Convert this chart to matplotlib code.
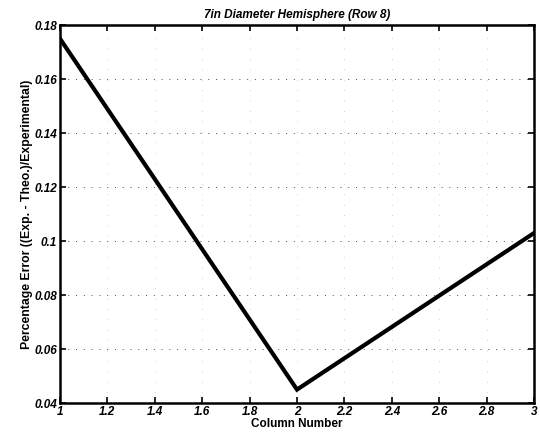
import matplotlib
matplotlib.use("Agg")
import matplotlib.pyplot as plt

# Percentage error per column, row 8
column_number = [1, 2, 3]
percent_error = [0.175, 0.045, 0.103]

x_ticks = [1, 1.2, 1.4, 1.6, 1.8, 2, 2.2, 2.4, 2.6, 2.8, 3]
y_ticks = [0.04, 0.06, 0.08, 0.1, 0.12, 0.14, 0.16, 0.18]
y_tick_labels = ["0.04", "0.06", "0.08", "0.1", "0.12", "0.14", "0.16", "0.18"]

plt.rcParams["font.family"] = ["Liberation Sans", "DejaVu Sans"]

fig = plt.figure(figsize=(5.4, 4.41), dpi=100)
ax = fig.add_axes([0.111, 0.086, 0.878, 0.857])

ax.plot(column_number, percent_error, color="black", linewidth=3.0,
        solid_joinstyle="miter")

ax.set_xlim(1, 3)
ax.set_ylim(0.04, 0.18)
ax.set_xticks(x_ticks)
ax.set_xticklabels([f"{t:g}" for t in x_ticks])
ax.set_yticks(y_ticks)
ax.set_yticklabels(y_tick_labels)

# dotted grid: horizontal lines more prominent than vertical ones
ax.yaxis.grid(True, color="black", linestyle=(0, (1, 7)), linewidth=0.7, alpha=0.7)
ax.xaxis.grid(True, color="black", linestyle=(0, (1, 14)), linewidth=0.5, alpha=0.35)

ax.tick_params(direction="in", top=True, right=True, length=4, width=1.2,
               labelsize=8.5, pad=2)
for lbl in ax.get_xticklabels() + ax.get_yticklabels():
    lbl.set_fontweight("bold")
    lbl.set_fontstyle("italic")
for spine in ax.spines.values():
    spine.set_linewidth(1.8)

ax.set_title("7in Diameter Hemisphere (Row 8)", fontsize=8.5, fontweight="bold",
             fontstyle="italic", pad=5)
ax.set_xlabel("Column Number", fontsize=8.5, fontweight="bold", labelpad=0)
ax.set_ylabel("Percentage Error ((Exp. - Theo.)/Experimental)", fontsize=8.8,
              fontweight="bold", labelpad=1)

fig.savefig("out.png", dpi=100)
